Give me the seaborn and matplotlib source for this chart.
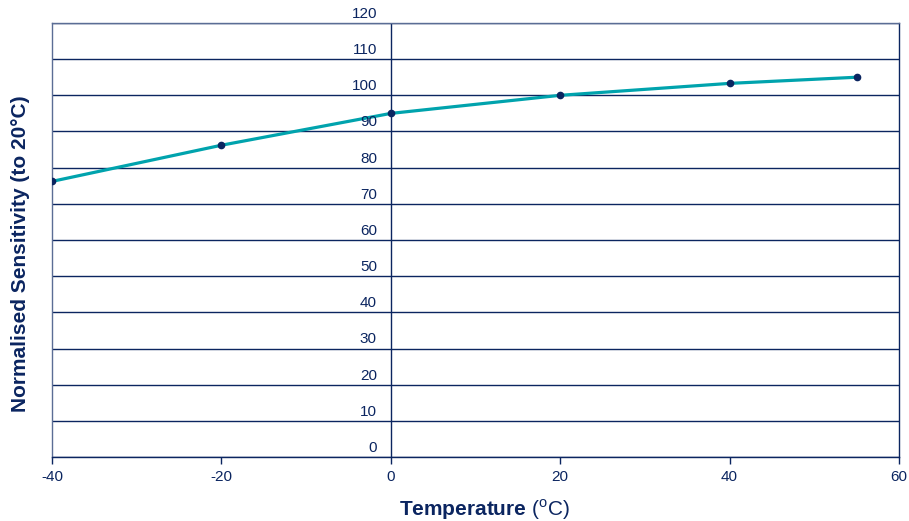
import matplotlib
matplotlib.use('Agg')
import matplotlib.pyplot as plt
import matplotlib.transforms as mtrans
import pandas as pd
import seaborn as sns

# data
temperature = [-40, -20, 0, 20, 40, 55]
sensitivity = [76.2, 86.2, 95.0, 100.0, 103.3, 105.0]
y_ticks = [0, 10, 20, 30, 40, 50, 60, 70, 80, 90, 100, 110, 120]
x_ticks = [-40, -20, 0, 20, 40, 60]

navy = '#0b2560'
teal = '#00a3ad'

sns.set_style('white')
plt.rcParams['font.family'] = ['Liberation Sans', 'DejaVu Sans']
plt.rcParams['mathtext.fontset'] = 'custom'
plt.rcParams['mathtext.rm'] = 'Liberation Sans'
plt.rcParams['mathtext.bf'] = 'Liberation Sans:bold'

df = pd.DataFrame({'Temperature': temperature, 'Sensitivity': sensitivity})

fig = plt.figure(figsize=(9.09, 5.21), dpi=100)
ax = fig.add_axes([0.0572, 0.1228, 0.9318, 0.8331])

sns.lineplot(data=df, x='Temperature', y='Sensitivity', ax=ax,
             color=teal, linewidth=2.3, zorder=3)
ax.plot(df['Temperature'], df['Sensitivity'], 'o', color=navy,
        markersize=4.5, zorder=4)

ax.set_xlim(-40, 60)
ax.set_ylim(0, 120)
ax.set_xticks(x_ticks)
ax.set_yticks(y_ticks)
ax.yaxis.grid(True, color=navy, linewidth=1.0)
ax.xaxis.grid(False)
ax.axvline(0, color=navy, linewidth=1.0, zorder=2)

for side in ['left', 'right', 'top', 'bottom']:
    ax.spines[side].set_color(navy)
    ax.spines[side].set_linewidth(1.0)
ax.spines['top'].set_color('#5b6d95')
ax.spines['left'].set_color('#5b6d95')

ax.tick_params(axis='y', left=False, labelleft=False)
ax.tick_params(axis='x', bottom=True, length=5, width=1, color=navy,
               labelcolor=navy, labelsize=11, pad=4)
ax.set_xticklabels([str(t) for t in x_ticks])

# y labels sit next to the x=0 line, just above each gridline
lab_trans = mtrans.offset_copy(ax.transData, fig=fig, x=-10, y=1.5, units='points')
for yt in y_ticks:
    ax.text(0, yt, str(yt), transform=lab_trans, ha='right', va='bottom',
            color=navy, fontsize=11)

ax.set_xlabel(r'$\mathbf{Temperature}$ ($^{\mathrm{o}}$C)', fontsize=15,
              color=navy)
ax.set_ylabel('Normalised Sensitivity (to 20°C)', fontsize=15,
              fontweight='bold', color=navy)
ax.xaxis.set_label_coords(0.511, -0.093)
ax.yaxis.set_label_coords(-0.026, 0.468)

fig.savefig('out.png', dpi=100)
